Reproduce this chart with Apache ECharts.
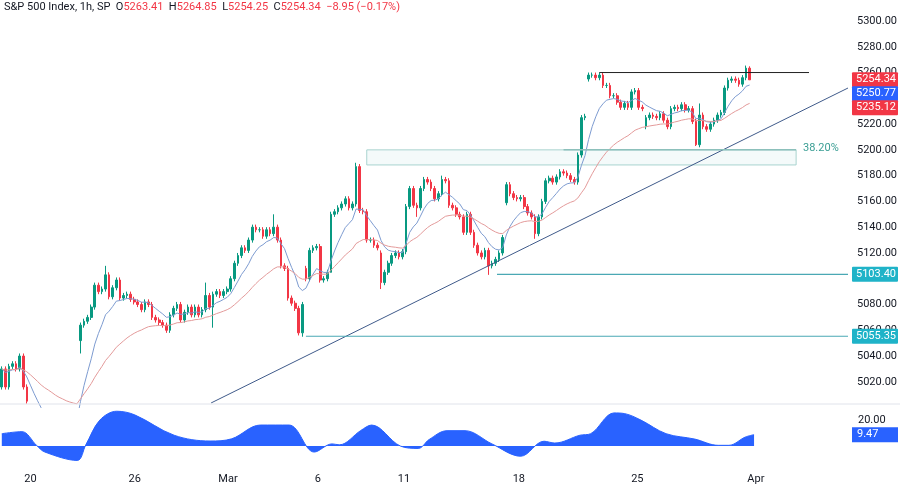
<!DOCTYPE html>
<html><head><meta charset="utf-8">
<script src="https://cdn.jsdelivr.net/npm/echarts@6/dist/echarts.min.js"></script>
<style>html,body{margin:0;padding:0;background:#fff}#c{width:900px;height:489px}</style>
</head><body><div id="c"></div>
<script>
// ---- data ----
const closes = [5030,5016,5032,5034,5030,5040,5016,5005,
4992,4986,4982,4978,4984,4988,4984,4980,4984,4988,4985,4990,4992,4994,
5064,5067,5070,5078,5095,5090,5092,5103,5086,5093,5099,5085,5087,5088,5084,5082,5080,5076,
5082,5080,5070,5068,5066,5064,5060,5072,5077,5080,5068,5074,5078,5072,5078,5072,5076,5087,
5078,5088,5090,5087,5090,5092,5100,5112,5118,5124,5122,5130,5140,5138,5138,5133,5138,5135,
5140,5130,5110,5108,5085,5081,5077,5058,5080,5100,5122,5124,5125,5099,5100,5105,5150,5152,
5155,5158,5162,5155,5158,5187,5153,5152,5130,5130,5126,5124,5097,5105,5112,5118,5120,5117,
5121,5156,5170,5157,5155,5170,5177,5175,5170,5162,5166,5177,5176,5157,5155,5150,5148,5136,
5150,5136,5126,5120,5117,5122,5110,5112,5115,5120,5132,5173,5166,5163,5162,5163,5156,5151,
5148,5135,5148,5160,5176,5178,5175,5179,5183,5182,5180,5177,5175,5196,5225,5226,5258,5258,
5256,5258,5250,5250,5242,5242,5237,5233,5236,5233,5245,5246,5233,5232,5225,5227,5226,5225,
5228,5223,5218,5232,5233,5232,5235,5231,5232,5222,5204,5227,5218,5216,5220,5223,5227,5229,
5248,5254,5255,5254,5251,5256,5263.41,5254.34];
const openGaps = {0:5016,8:4996,22:5052,85:5108,106:5120,141:5159,164:5255,180:5218};
const wickHighs = {29:5110,57:5097,76:5150,99:5190,195:5236,209:5264.85,26:5097,123:5180,161:5198,8:4997};
const wickLows = {22:5042,59:5062,92:5130,106:5092,116:5148,136:5103,149:5131,194:5203,209:5254.25,84:5055,46:5058};
const dateLabels = {8:'20',37:'26',63:'Mar',88:'6',112:'11',144:'18',177:'25',210:'Apr'};
const oscIdx = [0,5.6,9.7,12,21,23.4,27.3,32,37,48,58,64,72,80,87,92,94,100,103,111,116,119,124,129,136.5,144.5,151,154,161,164,170.5,173.5,178,185,193,199.5,202.5,207,209.5];
const oscVal = [10.3,12,0.5,-5,-12,1,21.6,29,26,9,4.2,6,17.5,17.5,-5,1.8,1,13,17.5,0,-2,5.4,12.8,12.8,1.8,-8.5,4,2.5,9,10.3,27.6,27,21.6,10.3,5.8,0.6,0.6,7.4,9.47];
const levels = {support1:5103.40, support2:5055.35, resistance:5260, fibTop:5200, fibBot:5188.3};
const trend = [[58.5,5003.6],[236.5,5248]];
const tags = [{v:5254.34,t:'5254.34',c:'#f23645'},{v:5250.77,t:'5250.77',c:'#2962ff'},{v:5235.12,t:'5235.12',c:'#f23645'},{v:5103.40,t:'5103.40',c:'#1fb3c8'},{v:5055.35,t:'5055.35',c:'#1fb3c8'}];

const N = 237;
const cats = Array.from({length:N},(_,i)=>String(i));
const ohlc = closes.map((c,i)=>{
  const o = openGaps[i]!==undefined ? openGaps[i] : closes[i-1];
  const h = wickHighs[i]!==undefined ? wickHighs[i] : Math.max(o,c)+2;
  const l = wickLows[i]!==undefined ? wickLows[i] : Math.min(o,c)-2;
  return [o,c,l,h];
});
function ema(arr,n){const k=2/(n+1);let e=arr[0];return arr.map(v=>(e=v*k+e*(1-k)));}
const emaFast = ema(closes,9), emaSlow = ema(closes,30);

const chart = echarts.init(document.getElementById('c'));
chart.setOption({
  animation:false,
  grid:[{left:0,right:49,top:21,height:386.6},{left:0,right:49,top:405,height:57}],
  xAxis:[
    {type:'category',data:cats,gridIndex:0,axisLine:{show:false},axisTick:{show:false},axisLabel:{show:false},splitLine:{show:false}},
    {type:'value',gridIndex:0,min:-0.5,max:N-0.5,show:false},
    {type:'category',data:cats,gridIndex:1,position:'bottom',axisLine:{show:false},axisTick:{show:false},
      axisLabel:{interval:(i)=>dateLabels[i]!==undefined,formatter:(v,i)=>dateLabels[i]||'',color:'#131722',fontSize:11,margin:12,fontFamily:'Roboto'}},
    {type:'value',gridIndex:1,min:-0.5,max:N-0.5,show:false}
  ],
  yAxis:[
    {type:'value',gridIndex:0,min:5000,max:5300,interval:20,position:'right',splitLine:{show:false},axisLine:{show:false},axisTick:{show:false},
     axisLabel:{color:'#131722',fontSize:11,fontFamily:'Roboto',margin:9,formatter:v=>v>5000?v.toFixed(2):''}},
    {type:'value',gridIndex:1,min:-13.3,max:34.2,show:false}
  ],
  series:[
    {type:'candlestick',data:ohlc,xAxisIndex:0,yAxisIndex:0,barWidth:'60%',clip:true,
     itemStyle:{color:'#089981',color0:'#f23645',borderColor:'#089981',borderColor0:'#f23645'}},
    {type:'line',data:emaFast,xAxisIndex:0,yAxisIndex:0,symbol:'none',lineStyle:{color:'#7d9bd0',width:1}},
    {type:'line',data:emaSlow,xAxisIndex:0,yAxisIndex:0,symbol:'none',lineStyle:{color:'#e39a9a',width:1}},
    {type:'line',xAxisIndex:1,yAxisIndex:0,symbol:'none',data:trend,lineStyle:{color:'#3f5a8a',width:1}},
    {type:'line',xAxisIndex:1,yAxisIndex:0,symbol:'none',data:[[138.4,levels.support1],[236.5,levels.support1]],lineStyle:{color:'#4aa8b4',width:1.2}},
    {type:'line',xAxisIndex:1,yAxisIndex:0,symbol:'none',data:[[85,levels.support2],[236.5,levels.support2]],lineStyle:{color:'#4aa8b4',width:1.2}},
    {type:'line',xAxisIndex:1,yAxisIndex:0,symbol:'none',data:[[167,levels.resistance],[225.6,levels.resistance]],lineStyle:{color:'#222',width:1}},
    {type:'line',xAxisIndex:1,yAxisIndex:0,symbol:'none',data:[[157,levels.fibTop],[222,levels.fibTop]],lineStyle:{color:'#8cc0bb',width:1.5},
     markArea:{silent:true,itemStyle:{color:'rgba(38,166,154,0.05)',borderColor:'#a8d3cf',borderWidth:1},data:[[{xAxis:102,yAxis:levels.fibTop},{xAxis:222,yAxis:levels.fibBot}]]}},
    {type:'line',xAxisIndex:3,yAxisIndex:1,symbol:'none',smooth:0.35,data:oscIdx.map((x,i)=>[x,oscVal[i]]),
     lineStyle:{color:'#2962ff',width:1},areaStyle:{color:'#2962ff',opacity:1,origin:0}}
  ]
});
// overlays
const g=[];
const red='#f23645';
g.push({type:'text',left:4,top:2,z:100,style:{rich:{a:{fill:'#131722',fontSize:11,fontFamily:'Roboto'},r:{fill:red,fontSize:11,fontFamily:'Roboto'}},
  text:'{a|S&P 500 Index, 1h, SP  O}{r|5263.41}{a|  H}{r|5264.85}{a|  L}{r|5254.25}{a|  C}{r|5254.34}{r|  −8.95 (−0.17%)}'}});
g.push({type:'text',x:803,y:chart.convertToPixel({yAxisIndex:0},5200)-7,z:100,style:{text:'38.20%',fill:'#3a9e94',fontSize:11,fontFamily:'Roboto'}});
let lastY=-100;
tags.forEach(t=>{let y=chart.convertToPixel({yAxisIndex:0},t.v); if(y<lastY+14) y=lastY+14; lastY=y;
  g.push({type:'rect',z:100,shape:{x:852,y:y-7.5,width:46,height:15,r:1},style:{fill:t.c}});
  g.push({type:'text',z:101,x:856,y:y-6,style:{text:t.t,fill:'#fff',fontSize:11,fontFamily:'Roboto'}});
});
g.push({type:'line',z:100,shape:{x1:0,y1:404,x2:900,y2:404},style:{stroke:'#e0e3eb',lineWidth:1}});
const oy=chart.convertToPixel({yAxisIndex:1},20), oy2=chart.convertToPixel({yAxisIndex:1},9.47);
g.push({type:'text',z:100,x:858,y:oy-7,style:{text:'20.00',fill:'#131722',fontSize:11,fontFamily:'Roboto'}});
g.push({type:'rect',z:100,shape:{x:852,y:oy2-7.5,width:46,height:15},style:{fill:'#2962ff'}});
g.push({type:'text',z:101,x:857,y:oy2-6,style:{text:'9.47',fill:'#fff',fontSize:11,fontFamily:'Roboto'}});
chart.setOption({graphic:g});
</script></body></html>
